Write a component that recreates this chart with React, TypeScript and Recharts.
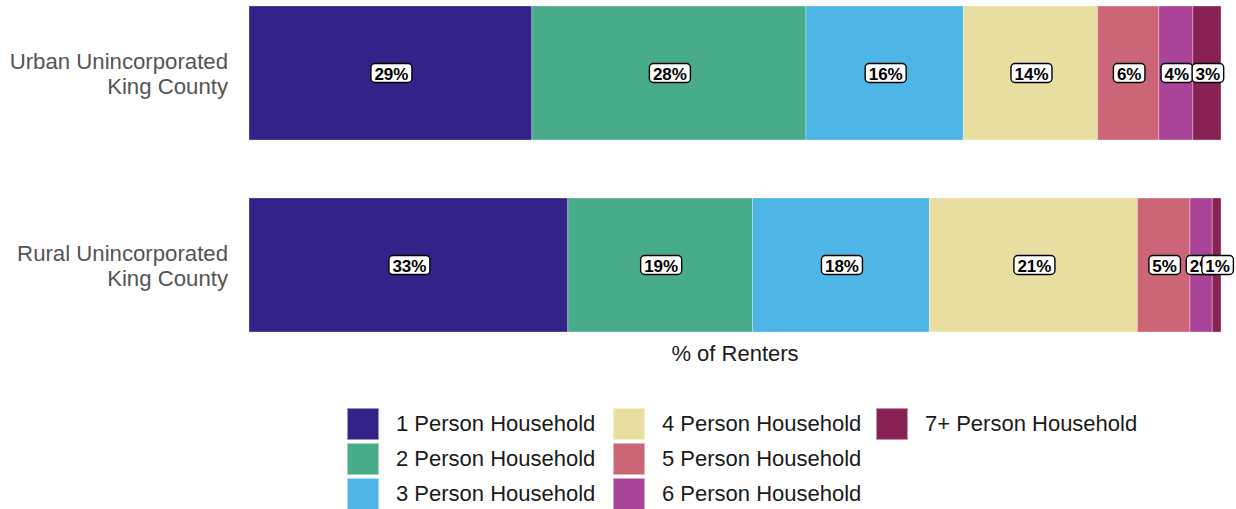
import React from "react";
import { BarChart, Bar, XAxis, YAxis, LabelList } from "recharts";

const areas = ["Urban Unincorporated King County", "Rural Unincorporated King County"];
const areaLines = [
  ["Urban Unincorporated", "King County"],
  ["Rural Unincorporated", "King County"],
];
const householdSizes = [
  "1 Person Household",
  "2 Person Household",
  "3 Person Household",
  "4 Person Household",
  "5 Person Household",
  "6 Person Household",
  "7+ Person Household",
];
// % of renters, per area, by household size
const urbanShares = [29.1, 28.2, 16.2, 13.8, 6.3, 3.5, 2.9];
const ruralShares = [32.8, 19.0, 18.2, 21.4, 5.4, 2.3, 0.9];
const sizeColors = ["#332288", "#48AB89", "#4DB6E6", "#E8DE9F", "#CC6677", "#AA4499", "#882255"];

const FONT = "Arial, 'Liberation Sans', Helvetica, sans-serif";

const data = areas.map((name, i) => {
  const row: Record<string, string | number> = { name };
  const shares = i === 0 ? urbanShares : ruralShares;
  householdSizes.forEach((s, j) => {
    row[`s${j}`] = shares[j];
  });
  return row;
});

// two-line, right aligned category label
function AreaTick(props: any) {
  const { x, y, payload } = props;
  const lines = areaLines[areas.indexOf(payload.value)] ?? [payload.value];
  return (
    <g>
      {lines.map((ln, k) => (
        <text
          key={k}
          x={x - 13}
          y={y + (k === 0 ? -12 : 13)}
          textAnchor="end"
          dominantBaseline="central"
          fontFamily={FONT}
          fontSize={22.2}
          fill="#555555"
        >
          {ln}
        </text>
      ))}
    </g>
  );
}

// white rounded pill with bold percentage
function PctLabel(props: any) {
  const { x, y, width, height, value } = props;
  if (value == null) return null;
  const txt = `${Math.round(Number(value))}%`;
  const cx = Number(x) + Number(width) / 2 + 1;
  const cy = Number(y) + Number(height) / 2;
  const w = (txt.length - 1) * 9.45 + 15.1 + 7;
  const h = 19;
  return (
    <g>
      <rect x={cx - w / 2} y={cy - h / 2} width={w} height={h} rx={4} ry={4} fill="#fff" stroke="#000" strokeWidth={1.4} />
      <text
        x={cx}
        y={cy + 1}
        textAnchor="middle"
        dominantBaseline="central"
        fontFamily={FONT}
        fontWeight="bold"
        fontSize={17}
        fill="#000"
      >
        {txt}
      </text>
    </g>
  );
}

function LegendGrid() {
  const cols = [
    [0, 1, 2],
    [3, 4, 5],
    [6],
  ];
  const colX = [347, 613, 876];
  return (
    <div style={{ position: "absolute", left: 0, top: 0, width: 1236, height: 509, pointerEvents: "none" }}>
      {cols.map((col, ci) =>
        col.map((si, ri) => (
          <div
            key={si}
            style={{
              position: "absolute",
              left: colX[ci],
              top: 408 + ri * 35,
              display: "flex",
              alignItems: "center",
              height: 32,
            }}
          >
            <div
              style={{
                width: 32,
                height: 32,
                background: sizeColors[si],
                boxSizing: "border-box",
                border: "1px solid rgba(255,255,255,0.5)",
              }}
            />
            <span
              style={{
                marginLeft: 17,
                fontFamily: FONT,
                fontSize: 22,
                color: "#1A1A1A",
                whiteSpace: "nowrap",
              }}
            >
              {householdSizes[si]}
            </span>
          </div>
        ))
      )}
    </div>
  );
}

export default function App() {
  return (
    <div style={{ position: "absolute", left: 0, top: 0, width: 1236, height: 509, overflow: "hidden", background: "#fff" }}>
      <div style={{ position: "absolute", left: 0, top: -23 }}>
        <BarChart
          width={1236}
          height={532}
          layout="vertical"
          data={data}
          margin={{ top: 0, right: 15, bottom: 148, left: 0 }}
          barSize={134}
        >
          <XAxis type="number" domain={[0, 100]} hide />
          <YAxis
            type="category"
            dataKey="name"
            width={249}
            axisLine={false}
            tickLine={false}
            tick={<AreaTick />}
            interval={0}
          />
          {householdSizes.map((s, j) => (
            <Bar
              key={s}
              dataKey={`s${j}`}
              name={s}
              stackId="a"
              fill={sizeColors[j]}
              stroke="#ffffff"
              strokeOpacity={0.5}
              strokeWidth={0.6}
              isAnimationActive={false}
            >
              <LabelList dataKey={`s${j}`} content={<PctLabel />} />
            </Bar>
          ))}
        </BarChart>
      </div>
      <div
        style={{
          position: "absolute",
          left: 635,
          width: 200,
          top: 341,
          textAlign: "center",
          fontFamily: FONT,
          fontSize: 22,
          color: "#1A1A1A",
        }}
      >
        % of Renters
      </div>
      <LegendGrid />
    </div>
  );
}
